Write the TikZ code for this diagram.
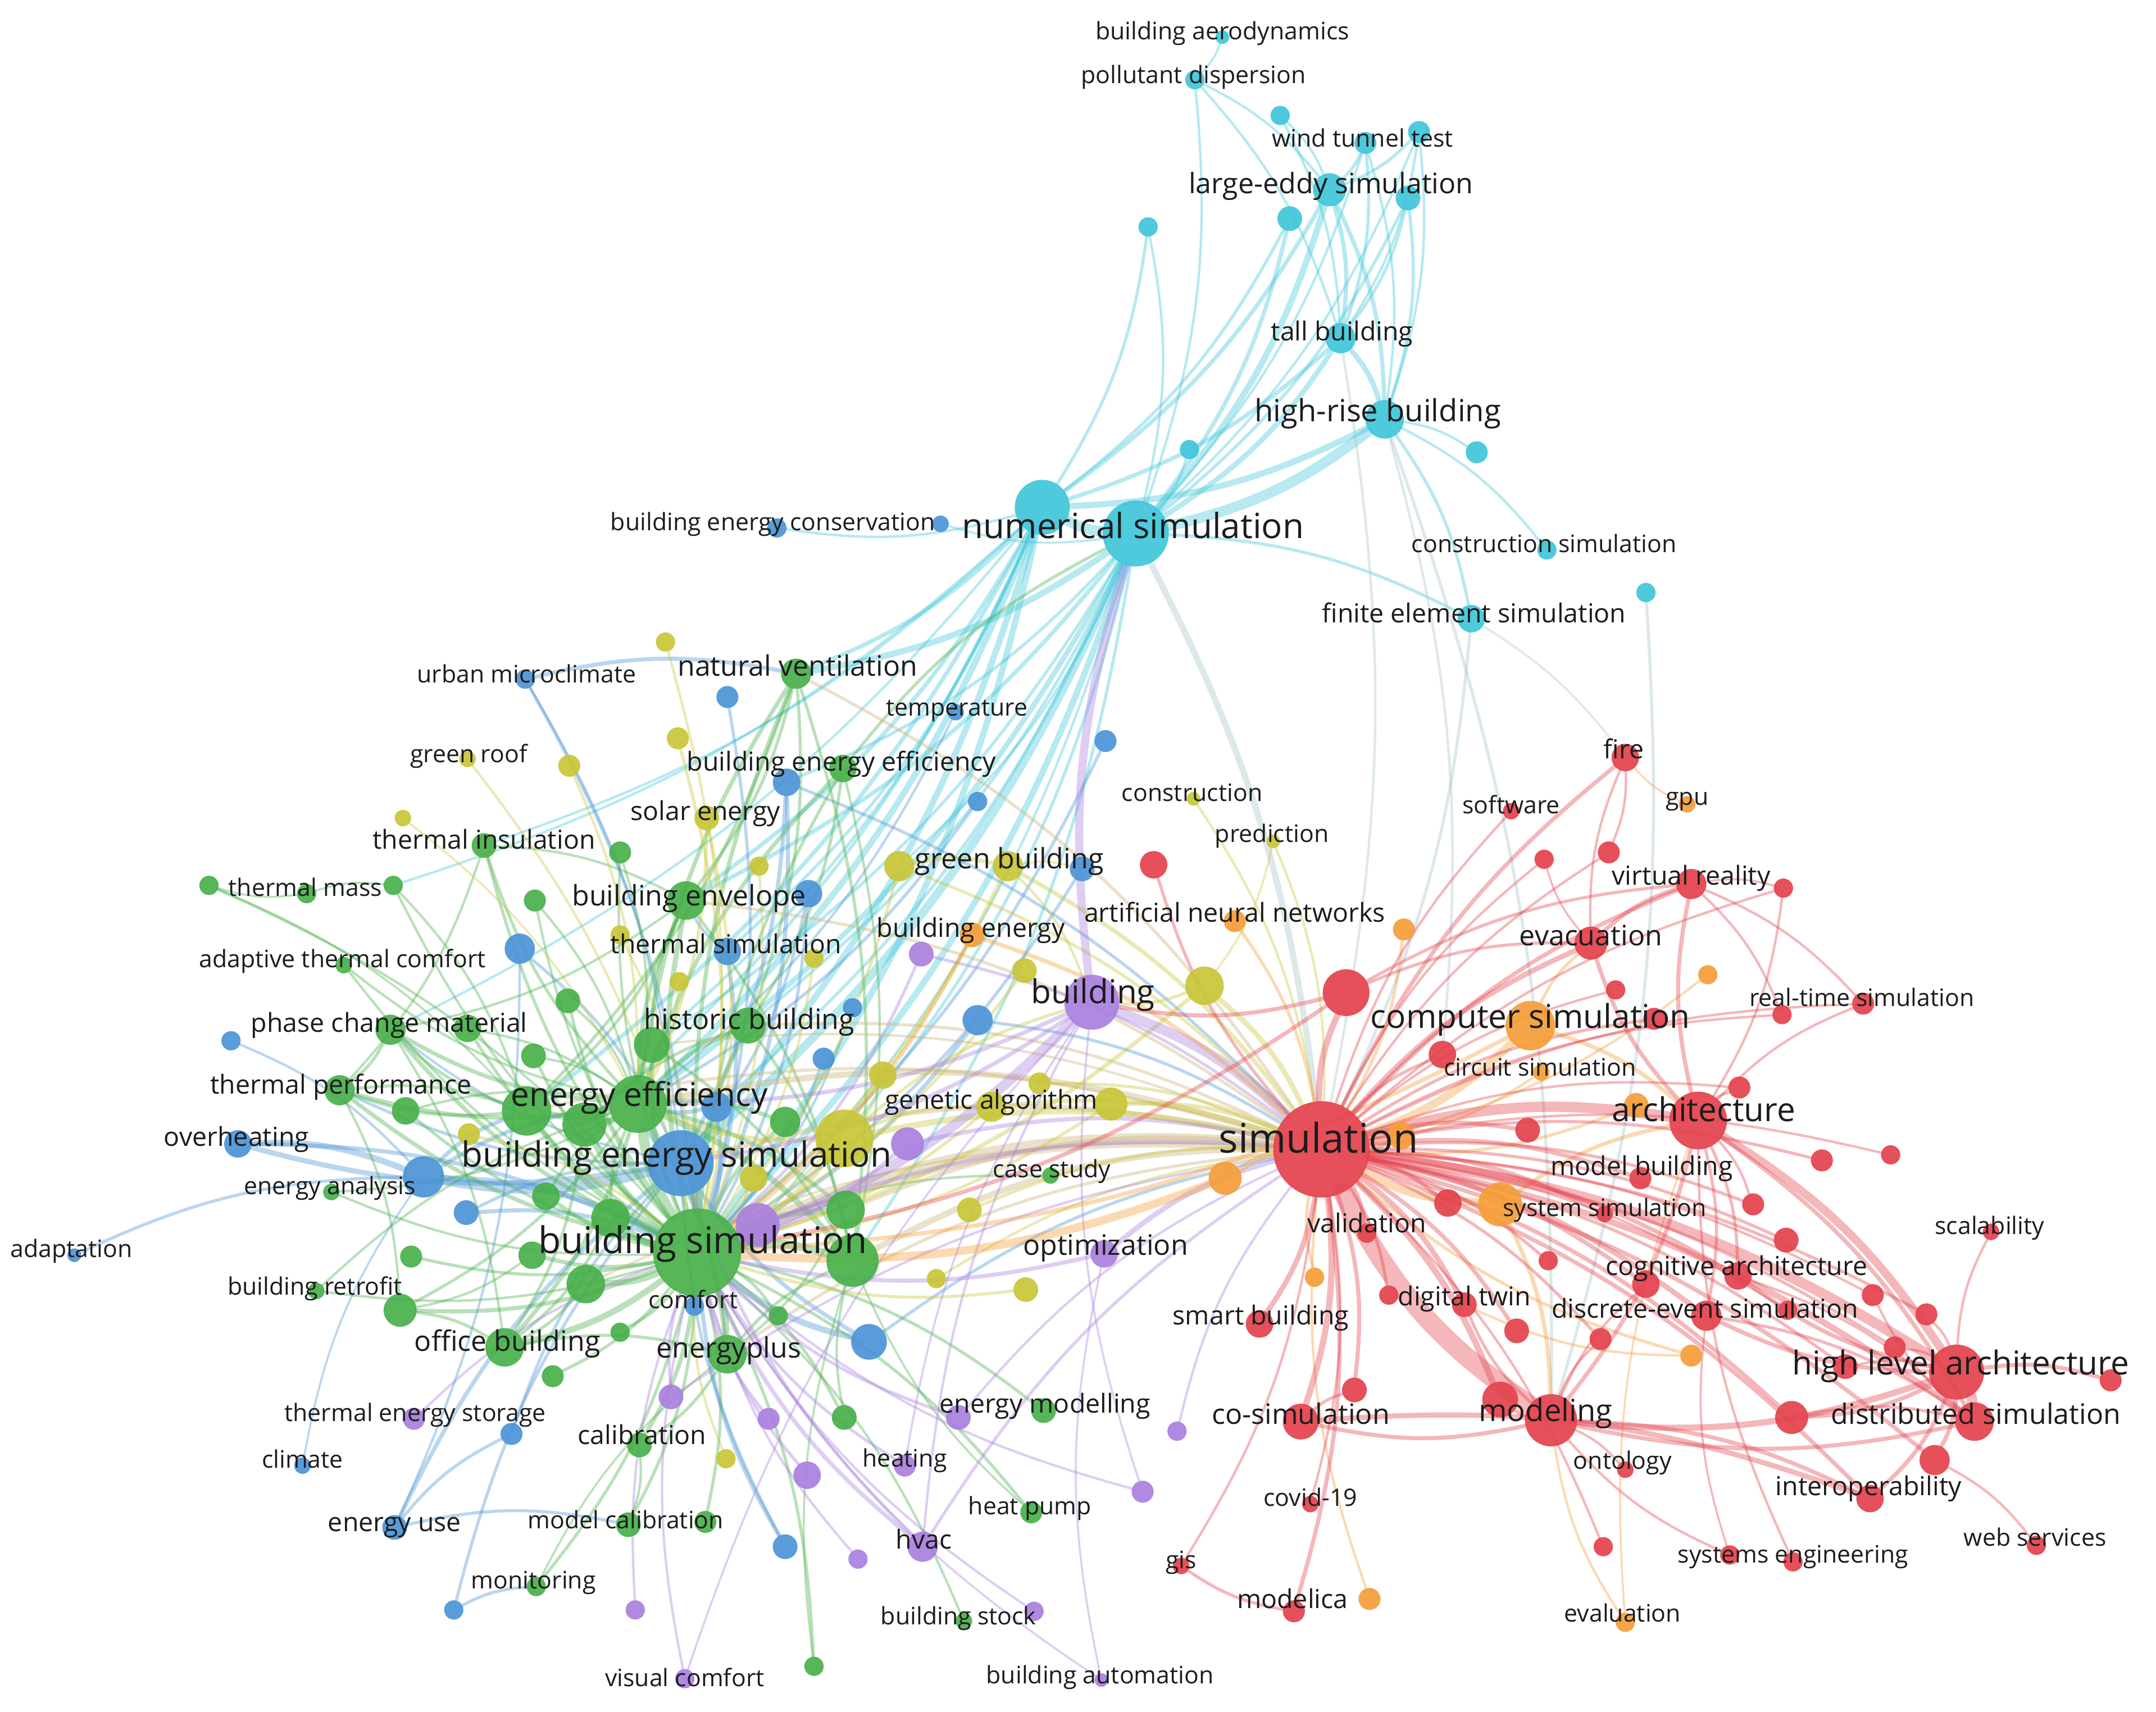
\documentclass[tikz,border=0pt]{standalone}
\usepackage{fontspec}
\setmainfont{Open Sans}
\pgfdeclarelayer{bg}
\pgfdeclarelayer{edges}
\pgfsetlayers{bg,edges,main}
\definecolor{cRed}{RGB}{228,66,76}
\definecolor{cGreen}{RGB}{72,176,74}
\definecolor{cBlue}{RGB}{76,148,214}
\definecolor{cYellow}{RGB}{200,198,56}
\definecolor{cPurple}{RGB}{170,128,222}
\definecolor{cCyan}{RGB}{64,198,218}
\definecolor{cOrange}{RGB}{245,158,56}
\definecolor{cKhaki}{RGB}{205,178,118}
\definecolor{cGrey}{RGB}{168,196,204}
\definecolor{cLab}{RGB}{28,28,28}
\tikzset{
  nd/.style={circle, inner sep=0pt, draw=none, fill opacity=0.92},
  lab/.style={inner sep=0pt, text=cLab, text height=0.77em, text depth=0.23em},
  sA/.style={font=\fontsize{17.5}{20}\selectfont},
  sB/.style={font=\fontsize{19}{22}\selectfont},
  sC/.style={font=\fontsize{20.5}{24}\selectfont},
  sD/.style={font=\fontsize{22.2}{26}\selectfont},
  sE/.style={font=\fontsize{23.9}{28}\selectfont},
  sF/.style={font=\fontsize{25.3}{30}\selectfont},
  sG/.style={font=\fontsize{26.8}{32}\selectfont},
  sH/.style={font=\fontsize{29.6}{36}\selectfont},
  edg/.style={draw opacity=0.38, line cap=round},
}
\begin{document}
\begin{tikzpicture}[x=1pt,y=-1pt]
\useasboundingbox (0,0) rectangle (1568,1245);
\begin{pgfonlayer}{bg}
\fill[white] (0,0) rectangle (1568,1245);
\end{pgfonlayer}
% ---------------- nodes ----------------
\foreach \n/\x/\y/\r in {c1/889/27/5, c2/869/58/7, c3/931/84/7, c4/993/104/8, c5/1032/96/8, c6/967/138/12, c7/1024/144/9, c8/938/159/9, c9/835/165/7, c10/975/246/11, c11/1007/305/14, c12/1074/329/8, c13/865/327/7, c14/758/369/20, c15/826/388/24, c16/1125/400/7, c17/1197/431/7, c18/1070/450/10}
  \node[nd, fill=cCyan, minimum size={2*\r}] (\n) at (\x,\y) {};
\foreach \n/\x/\y/\r in {b1/565/384/7, b2/684/381/6, b3/382/494/7, b4/529/507/8, b5/695/518/6, b6/804/539/8, b7/572/569/10, b8/711/583/7, b9/787/632/9, b10/588/650/10, b11/378/690/11, b12/529/692/10, b13/620/733/7, b14/711/742/11, b15/168/757/7, b16/599/770/8, b17/521/805/11, b18/173/832/10, b19/495/846/24, b20/308/856/15, b21/339/882/9, b22/54/913/5, b23/505/950/7, b24/632/976/13, b25/372/1043/8, b26/220/1066/6, b27/287/1111/9, b28/571/1125/9, b29/330/1171/7}
  \node[nd, fill=cBlue, minimum size={2*\r}] (\n) at (\x,\y) {};
\foreach \n/\x/\y/\r in {g1/579/490/11, g2/613/559/10, g3/352/615/9, g4/451/620/8, g5/152/644/7, g6/223/650/7, g7/286/644/7, g8/389/655/8, g9/499/655/14, g10/250/702/6, g11/413/728/9, g12/544/746/13, g13/474/760/13, g14/284/749/11, g15/340/748/10, g16/388/768/9, g17/247/793/11, g18/295/808/10, g19/383/808/18, g20/425/818/16, g21/464/803/21, g22/571/816/11, g23/764/855/6, g24/241/867/6, g25/397/870/10, g26/444/886/14, g27/615/880/14, g28/299/914/8, g29/387/913/10, g30/507/911/32, g31/620/917/19, g32/230/939/6, g33/291/953/12, g34/426/934/14, g35/566/957/7, g36/451/969/7, g37/367/980/14, g38/529/985/14, g39/402/1001/8, g40/614/1031/9, g41/759/1026/9, g42/465/1051/9, g43/750/1100/8, g44/457/1109/9, g45/513/1107/8, g46/390/1154/7, g47/592/1212/7, g48/701/1179/6}
  \node[nd, fill=cGreen, minimum size={2*\r}] (\n) at (\x,\y) {};
\foreach \n/\x/\y/\r in {y1/484/467/7, y2/493/537/8, y3/340/552/6, y4/414/557/8, y5/293/595/6, y6/514/595/9, y7/552/630/7, y8/654/630/11, y9/733/630/11, y10/868/581/5, y11/926/612/5, y12/451/680/7, y13/592/697/7, y14/745/706/9, y15/494/714/7, y16/876/717/14, y17/642/782/10, y18/756/788/8, y19/721/805/11, y20/808/803/12, y21/341/825/8, y22/614/828/21, y23/548/857/10, y24/705/880/9, y25/681/930/7, y26/746/938/9, y27/528/1061/7}
  \node[nd, fill=cYellow, minimum size={2*\r}] (\n) at (\x,\y) {};
\foreach \n/\x/\y/\r in {p1/670/694/9, p2/794/729/20, p3/660/832/12, p4/551/891/16, p5/803/912/10, p6/488/1016/9, p7/301/1032/8, p8/559/1032/8, p9/697/1031/9, p10/856/1041/7, p11/587/1073/10, p12/658/1066/8, p13/831/1085/8, p14/671/1125/11, p15/624/1134/7, p16/462/1171/7, p17/752/1172/7, p18/498/1221/7, p19/801/1222/5}
  \node[nd, fill=cPurple, minimum size={2*\r}] (\n) at (\x,\y) {};
\foreach \n/\x/\y/\r in {o1/707/680/9, o2/898/670/8, o3/1021/676/8, o4/1227/585/6, o5/1242/709/7, o6/1113/746/18, o7/1121/780/6, o8/1190/804/9, o9/1019/826/10, o10/891/857/12, o11/1091/876/16, o12/956/929/7, o13/1230/986/8, o14/996/1163/8, o15/1182/1180/7}
  \node[nd, fill=cOrange, minimum size={2*\r}] (\n) at (\x,\y) {};
\foreach \n/\x/\y/\r in {r1/1182/551/10, r2/1099/590/6, r3/1123/625/7, r4/1170/620/8, r5/1230/643/11, r6/1297/646/7, r7/839/629/10, r8/1157/686/12, r9/979/722/17, r10/1175/720/7, r11/1355/730/8, r12/1296/738/7, r13/1203/741/8, r14/1049/767/10, r15/1265/791/8, r16/1235/815/21, r17/1111/822/9, r18/961/836/35, r19/1325/844/8, r20/1375/840/7, r21/1193/857/8, r22/1053/875/10, r23/1167/883/6, r24/1275/876/8, r25/1448/896/6, r26/994/897/7, r27/1299/902/9, r28/1126/917/7, r29/1264/928/10, r30/1197/934/10, r31/1362/942/8, r32/1010/942/7, r33/1065/949/9, r34/1241/957/11, r35/1300/953/7, r36/1401/956/8, r37/916/963/10, r38/1103/968/9, r39/1164/974/8, r40/1378/980/8, r41/1342/994/9, r42/1423/998/20, r43/1535/1004/8, r44/985/1011/9, r45/1091/1018/13, r46/1128/1033/19, r47/1303/1031/12, r48/1436/1034/14, r49/946/1034/13, r50/1407/1062/11, r51/1182/1069/6, r52/1360/1090/10, r53/953/1094/6, r54/1166/1125/7, r55/1258/1131/7, r56/1304/1136/7, r57/1481/1124/7, r58/859/1139/6, r59/941/1172/8}
  \node[nd, fill=cRed, minimum size={2*\r}] (\n) at (\x,\y) {};
% ---------------- edges ----------------
\begin{pgfonlayer}{edges}
\foreach \a/\b/\w in {c2/c6/1.2, c2/c10/1.2, c2/c15/1.2, c1/c2/1, c3/c6/1.2, c3/c10/1.2, c4/c6/1.5, c4/c10/1.5, c4/c11/1.2, c4/c15/1.2, c5/c6/1.5, c5/c10/1.2, c5/c11/1.2, c5/c15/1.2, c7/c10/1.5, c7/c11/1.5, c7/c15/1.5, c6/c10/2, c6/c11/2, c6/c15/3, c6/c14/2, c8/c15/2, c8/c14/1.5, c9/c14/1.5, c9/c15/1.2, c10/c11/2.5, c10/c15/2.5, c10/c14/2, c11/c15/5, c11/c14/3, c11/c16/1.2, c11/c18/1.5, c11/c12/1.2, c13/c15/1.2, c15/c14/5, c15/c18/1.5, c15/g30/3, c15/g21/2.5, c15/b19/4, c15/g1/3, c15/g9/2, c15/g12/1.5, c15/y22/1.5, c14/g21/3, c14/g9/2, c14/b19/3, c14/g30/3, c14/g1/2, c14/b1/1.2, c15/b2/1, c14/g19/2, c14/g20/1.5, c14/g13/1.5, c15/g13/1.5, c14/g3/1.2, c14/g7/1.2, c15/b7/1.5, c14/b12/1.5, c15/g31/1.5, c15/b17/1.5, c14/g14/1.2, c15/p4/1.2, c15/y8/1.2}
  \draw[edg, draw=cCyan, line width={1.5*\w}] (\a) to[bend left=12] (\b);
\foreach \a/\b/\w in {c15/r18/3, c11/r46/1.5, c18/r18/1.5, c17/r46/1.5, c10/r18/1.2, c11/r14/1.2, c18/r1/1}
  \draw[edg, draw=cGrey, line width={1.5*\w}] (\a) to[bend left=10] (\b);
\foreach \a/\b/\w in {b3/g1/2, b3/g30/1.5, b3/b19/1.2, b19/g30/5, b19/g21/3, b19/b20/5, b19/b18/2.5, b18/b20/3, b18/g30/2, b22/b20/1.5, b17/g21/2, b12/g9/1.5, b12/g30/2, b7/g30/2, b7/r18/1.5, b10/g30/1.5, b14/g30/2, b14/r18/1.5, b24/g30/3, b24/r18/1.5, b27/b19/2, b27/b25/1.5, b27/g44/1.5, b29/b19/1.5, b29/g46/1.5, b28/g30/2, b25/b19/1.5, b6/g30/1.5, b8/g21/1.5, b9/g30/1.5, b11/b19/1.5, b13/g30/1.2, b16/g30/1.5, b21/g30/2, b15/b20/1.2, b20/g30/3, b23/g30/2, b4/g30/1.5, b5/g21/1.2, b11/b27/1.2, b26/b20/1, b19/g14/1.2, b19/g17/1.5, b20/g19/2, b20/g21/2, b7/b19/2, b10/b19/1.5, b17/g30/2, b24/b19/2, b28/b19/1.5, b21/b19/1.5}
  \draw[edg, draw=cBlue, line width={1.5*\w}] (\a) to[bend left=12] (\b);
\foreach \a/\b/\w in {g30/g1/2, g30/g2/1.5, g30/g3/1.5, g30/g9/2.5, g30/g12/2, g30/g13/2, g30/g14/2, g30/g17/2, g30/g19/3, g30/g20/3, g30/g21/5, g30/g26/3, g30/g27/3, g30/g31/4, g30/g33/2, g30/g34/3, g30/g37/3, g30/g38/3, g30/g42/2, g30/g44/1.5, g30/g46/1.5, g30/g47/1.5, g30/g48/1.2, g30/g11/1.5, g30/g15/1.5, g30/g16/1.5, g30/g18/1.5, g30/g25/2, g30/g28/1.5, g30/g29/2, g30/g35/1.5, g30/g36/1.5, g30/g39/1.5, g30/g40/1.5, g30/g41/1.5, g30/g43/1.5, g30/g45/1.5, g30/g22/2, g30/g23/1.2, g30/g32/1.2, g30/g24/1.2, g30/g10/1.2, g30/g7/1.2, g30/g8/1.2, g30/g4/1.2, g21/g1/2, g21/g2/2, g21/g3/1.5, g21/g9/2, g21/g12/2, g21/g14/2, g21/g17/2, g21/g19/3, g21/g20/3, g21/g22/2, g21/g27/2, g21/g31/3, g21/g37/2, g21/g38/2, g21/g13/2, g21/g10/1.2, g21/g33/1.5, g21/g24/1.2, g1/g19/1.5, g1/g9/1.5, g1/g12/1.5, g9/g14/1.2, g9/g19/1.5, g6/g5/1, g6/g7/1, g7/g19/1.2, g5/g30/1.2, g3/g17/1.2, g14/g17/1.5, g17/g19/1.5, g33/g37/1.5, g37/g38/1.5, g38/g42/1.5, g42/g44/1.2, g2/g12/1.5, g20/g37/1.5, g32/g21/1.2, g2/c15/1.5, g19/g14/1.5, g19/g17/1.5, g20/g12/1.5, g13/g9/1.5, g26/g37/1.5, g34/g37/1.5, g29/g33/1.2, g3/g9/1.2, g8/g21/1.2, g11/g21/1.2, g15/g21/1.2, g16/g21/1.2, g18/g21/1.2, g4/g21/1.2, g25/g21/1.5, g26/g21/1.5, g13/g31/1.5, g12/g31/1.5, g9/g31/1.5, g1/g31/1.5, g2/g31/1.2, g17/g33/1.2, g14/g37/1.2, g38/g31/1.5, g27/g38/1.2, g40/g31/1.2, g47/g31/1, g46/g38/1, g43/g31/1, g5/g19/1}
  \draw[edg, draw=cGreen, line width={1.5*\w}] (\a) to[bend left=12] (\b);
\foreach \a/\b/\w in {r18/g30/7, r18/g21/3, r18/g31/3, r18/g27/2, r18/g38/1.5, r18/g1/1.5, r18/g9/1.5, r18/b19/2.5, r18/g19/1.5, r18/g12/1.5, r18/g13/1.2, r18/g34/1.2}
  \draw[edg, draw=cKhaki, line width={1.5*\w}] (\a) to[bend right=14] (\b);
\foreach \a/\b/\w in {y22/g30/3, y22/r18/3, y22/g21/2, y9/r18/2, y9/g30/2, y8/g30/1.5, y8/r18/1.5, y16/r18/2.5, y16/g30/2, y19/r18/2, y20/r18/2, y20/g30/1.5, y14/g30/1.5, y6/g30/1.5, y6/g21/1.5, y3/g30/1.2, y1/g30/1.2, y2/g30/1.5, y4/g21/1.2, y5/g21/1, y10/r18/1.2, y11/r18/1.2, y11/y16/1, y26/g30/1.5, y24/r18/1.5, y17/g30/1.5, y18/r18/1.5, y23/g30/1.5, y25/r18/1.2, y27/g30/1.2, y12/g30/1.2, y13/g30/1.2, y15/g21/1.2, y7/g30/1.2, y21/g30/1.5, y8/y9/2, y9/b9/1, y22/p2/1.5, y9/p2/1.2, y16/p2/1.5, y19/g30/1.5, y22/y19/1.5, y17/y22/1.2}
  \draw[edg, draw=cYellow, line width={1.5*\w}] (\a) to[bend left=12] (\b);
\foreach \a/\b/\w in {p2/r18/5, p2/g30/5, p2/c15/4, p2/b19/2, p2/g21/2, p4/g30/3, p4/r18/2, p3/g30/2, p3/r18/2, p5/r18/2.5, p5/g30/2, p9/g30/1.5, p12/g30/1.5, p14/g30/2, p14/r18/1.5, p14/b19/1.5, p6/g30/1.5, p6/r18/1.2, p8/g30/1.5, p11/g30/1.5, p13/g30/1.2, p10/r18/1.2, p15/g30/1.2, p16/g30/1.2, p17/g30/1.2, p18/g30/1.2, p18/p2/1, p19/p5/1, p19/g30/1, p7/g30/1.2, p1/g30/1.5, p1/r18/1.5, p13/p2/1, p9/r18/1.2, p12/p2/1, p14/p2/1.2}
  \draw[edg, draw=cPurple, line width={1.5*\w}] (\a) to[bend left=12] (\b);
\foreach \a/\b/\w in {o1/r18/2, o1/g30/2, o2/r18/1.5, o3/r18/1.5, o6/r18/4, o6/r16/2, o6/r8/1.5, o11/r18/4, o11/r46/2, o11/r16/2, o10/r18/3, o10/g30/4, o9/r18/2, o8/r18/1.5, o12/r18/1.5, o13/r18/1.5, o13/r33/1.2, o14/r18/1.2, o15/r46/1.2, o15/r16/1, o7/r18/1.2, o5/r18/1.2, o4/r1/1, o6/g30/2}
  \draw[edg, draw=cOrange, line width={1.5*\w}] (\a) to[bend left=12] (\b);
\foreach \a/\b/\w in {r18/r1/2, r18/r2/1.2, r18/r3/1.2, r18/r4/1.2, r18/r5/2, r18/r6/1.2, r18/r7/1.5, r18/r8/2.5, r18/r9/3, r18/r10/1.2, r18/r11/1.2, r18/r12/1.2, r18/r13/1.5, r18/r14/1.5, r18/r16/5, r18/r17/2, r18/r19/1.5, r18/r20/1.2, r18/r21/2, r18/r22/2, r18/r23/2, r18/r24/1.5, r18/r26/2, r18/r27/1.5, r18/r28/1.5, r18/r29/2, r18/r30/2, r18/r32/1.5, r18/r33/2.5, r18/r34/2.5, r18/r37/2.5, r18/r38/2, r18/r39/1.5, r18/r42/5, r18/r44/2, r18/r45/3, r18/r47/2, r18/r48/3, r18/r49/3, r18/r50/2, r18/r52/2, r18/r53/1.2, r18/r54/1.2, r18/r58/1.2, r18/r59/2, r18/r36/1.5, r18/r40/1.5, r18/r41/1.5, r18/r15/1.2, r18/r35/1.2, r18/r31/1.2, r16/r42/4, r16/r5/2, r16/r8/2, r16/r48/2, r16/r11/1.2, r16/r29/1.5, r16/r34/1.5, r42/r48/5, r42/r43/2, r42/r46/3, r42/r52/2, r42/r50/2, r42/r29/2, r42/r34/2, r42/r47/2, r42/r25/1.2, r48/r46/2, r46/r49/2, r46/r52/2, r46/r33/1.5, r46/r51/1.2, r8/r5/2, r8/r1/1.2, r5/r11/1.2, r5/r12/1.2, r6/r16/1.2, r59/r58/1.5, r56/r16/1.2, r55/r46/1.2, r55/r34/1, r49/r44/1.5, r49/r52/2.5, r50/r57/1.2, r48/r31/1.2, r40/r42/1.2, r41/r42/1.2, r36/r42/1.2, r1/r4/1.2, r9/r5/1.5, r9/r8/1.5, r9/p2/2, r9/g30/2, r16/r46/2, r16/r15/1.2, r16/r24/1.2, r46/r45/2, r46/r30/1.2, r46/r39/1.2, r34/r48/1.5, r29/r48/1.2, r47/r48/1.5, r8/r3/1, r5/r6/1}
  \draw[edg, draw=cRed, line width={1.5*\w}] (\a) to[bend left=12] (\b);
\draw[edg, draw=cRed, line width=14pt] (r46) to[bend left=14] (r18);
\end{pgfonlayer}
% ---------------- labels ----------------
\foreach \n/\x/\y/\fsz/\txt in {Lc1/889/26/sA/building aerodynamics, Lc2/868/58/sA/pollutant dispersion, Lc4/991/104/sA/wind tunnel test, Lc6/968/138/sC/large-eddy simulation, Lc10/976/245/sB/tall building, Lc11/1002/304/sD/high-rise building, Lc15/824/389/sF/numerical simulation, Lc16/1123/399/sA/construction simulation, Lc18/1072/450/sB/finite element simulation, Lb1/562/383/sA/building energy conservation, Lb3/383/494/sA/urban microclimate, Lb5/696/518/sA/temperature, Lb12/528/691/sB/thermal simulation, Lb18/172/831/sB/overheating, Lb19/492/846/sF/building energy simulation, Lb22/52/912/sA/adaptation, Lb23/504/949/sA/comfort, Lb26/220/1065/sA/climate, Lb27/287/1111/sB/energy use, Lg1/580/489/sC/natural ventilation, Lg2/612/558/sB/building energy efficiency, Lg3/352/615/sB/thermal insulation, Lg6/222/649/sA/thermal mass, Lg9/501/656/sC/building envelope, Lg10/249/701/sA/adaptive thermal comfort, Lg12/545/746/sC/historic building, Lg14/283/748/sB/phase change material, Lg17/248/793/sB/thermal performance, Lg21/465/802/sE/energy efficiency, Lg23/765/854/sA/case study, Lg24/240/866/sA/energy analysis, Lg30/511/909/sG/building simulation, Lg32/229/939/sA/building retrofit, Lg37/369/980/sC/office building, Lg38/530/985/sC/energyplus, Lg41/760/1025/sB/energy modelling, Lg42/467/1048/sB/calibration, Lg43/749/1099/sA/heat pump, Lg44/455/1109/sA/model calibration, Lg46/388/1153/sA/monitoring, Lg48/697/1179/sA/building stock, Ly3/341/552/sA/green roof, Ly6/513/594/sB/solar energy, Ly9/734/629/sC/green building, Ly10/867/580/sA/construction, Ly11/925/610/sA/prediction, Ly19/721/804/sB/genetic algorithm, Lp2/795/727/sE/building, Lp5/804/910/sC/optimization, Lp7/302/1031/sA/thermal energy storage, Lp12/658/1064/sA/heating, Lp14/672/1124/sB/hvac, Lp18/498/1224/sA/visual comfort, Lp19/800/1222/sA/building automation, Lo1/706/679/sB/building energy, Lo2/898/668/sB/artificial neural networks, Lo4/1227/583/sA/gpu, Lo6/1113/745/sE/computer simulation, Lo7/1120/780/sA/circuit simulation, Lo15/1180/1177/sA/evaluation, Lr1/1181/549/sB/fire, Lr2/1099/589/sA/software, Lr5/1230/641/sB/virtual reality, Lr8/1157/685/sC/evacuation, Lr11/1354/729/sA/real-time simulation, Lr16/1239/813/sE/architecture, Lr18/959/836/sH/simulation, Lr21/1194/852/sB/model building, Lr23/1167/882/sA/system simulation, Lr25/1447/895/sA/scalability, Lr26/994/894/sB/validation, Lr29/1263/925/sB/cognitive architecture, Lr33/1065/947/sB/digital twin, Lr34/1240/956/sB/discrete-event simulation, Lr37/917/961/sB/smart building, Lr42/1426/997/sE/high level architecture, Lr46/1124/1031/sD/modeling, Lr48/1437/1033/sC/distributed simulation, Lr49/946/1033/sC/co-simulation, Lr51/1180/1066/sA/ontology, Lr52/1359/1085/sB/interoperability, Lr53/953/1093/sA/covid-19, Lr56/1304/1134/sA/systems engineering, Lr57/1480/1122/sA/web services, Lr58/859/1138/sA/gis, Lr59/940/1167/sB/modelica}
  \node[lab, \fsz] (\n) at (\x,\y) {\txt};
\end{tikzpicture}
\end{document}
